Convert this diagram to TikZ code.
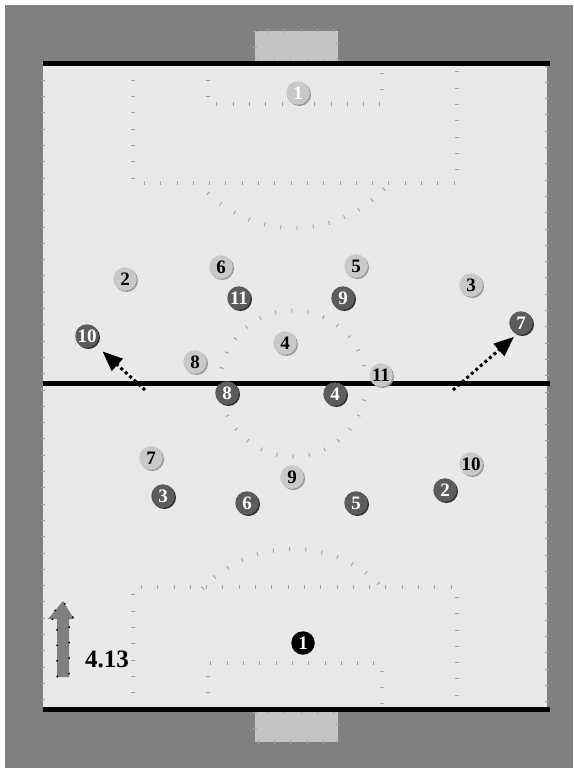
\documentclass[tikz,border=0pt]{standalone}
\usepackage{fontspec}
\setmainfont{Liberation Serif}
\usepackage{tikz}
\usetikzlibrary{arrows.meta,shadows}
\definecolor{Stand}{HTML}{808080}
\definecolor{Pitch}{HTML}{E9E9E9}
\definecolor{Mark}{HTML}{A4A4A4}
\definecolor{GoalGrey}{HTML}{C4C4C4}
\definecolor{HomeBall}{HTML}{C9C9C9}
\definecolor{HomeRim}{HTML}{9A9A9A}
\definecolor{AwayBall}{HTML}{5C5C5C}
\definecolor{AwayRim}{HTML}{333333}
\newcommand{\ballfont}{\bfseries\fontsize{19}{19}\selectfont}

\begin{document}
\begin{tikzpicture}[x=1pt,y=-1pt,
    marks/.style={Mark,line width=4pt,dash pattern=on 1pt off 15.3pt},
    ball/.style={circle,minimum size=23.5pt,inner sep=0pt,font=\ballfont},
    home/.style={ball,fill=HomeBall,drop shadow={shadow xshift=1.3pt,shadow yshift=-1.3pt,fill=HomeRim,opacity=1}},
    away/.style={ball,fill=AwayBall,text=white,drop shadow={shadow xshift=1.3pt,shadow yshift=-1.3pt,fill=AwayRim,opacity=1}},
    keeper/.style={ball,fill=black,text=white},
    run/.style={line width=3pt,dash pattern=on 3pt off 3pt,-{Triangle[length=20pt,width=16pt]}}]
    \useasboundingbox (0,0) rectangle (573,768);
    \fill[white] (0,0) rectangle (573,768);
    \fill[Stand] (5,5) rectangle (573,768);
    \fill[Pitch] (43,63.5) rectangle (547,709.5);
    \draw[marks] (43,63.5) rectangle (547,709.5);
    \draw[marks] (133,63.5) -- (133,183) -- (457,183) -- (457,63.5);
    \draw[marks] (208,63.5) -- (208,104) -- (382,104) -- (382,63.5);
    \draw[marks] (294,104.5) ++(43:123.5) arc (43:137:123.5);
    \draw[marks] (133,709.5) -- (133,587) -- (457,587) -- (457,709.5);
    \draw[marks] (208,709.5) -- (208,663) -- (382,663) -- (382,709.5);
    \draw[marks] (293,673) ++(223:124) arc (223:317:124);
    \draw[marks] (293,383.5) circle (73);
    \filldraw[marks,fill=GoalGrey] (255,31) rectangle (338,61);
    \filldraw[marks,fill=GoalGrey] (255,712) rectangle (338,742);
    \draw[line width=5pt] (43,63.5) -- (550,63.5);
    \draw[line width=5pt] (43,383.5) -- (550,383.5);
    \draw[line width=5pt] (43,709.5) -- (550,709.5);

    \node[home,text=white] (a1) at (298,93) {1};
    \node[home] (a2) at (125,279) {2};
    \node[home] (a3) at (471,285) {3};
    \node[home] (a4) at (285,343) {4};
    \node[home] (a5) at (356,266) {5};
    \node[home] (a6) at (221,267) {6};
    \node[home] (a7) at (151,458) {7};
    \node[home] (a8) at (195,362) {8};
    \node[home] (a9) at (292,477) {9};
    \node[home] (a10) at (471,464) {10};
    \node[home] (a11) at (381,375) {11};

    \node[keeper] (b1) at (303,643) {1};
    \node[away] (b2) at (445,490) {2};
    \node[away] (b3) at (163,496) {3};
    \node[away] (b4) at (335,394) {4};
    \node[away] (b5) at (356,503) {5};
    \node[away] (b6) at (247,503) {6};
    \node[away] (b7) at (521,323) {7};
    \node[away] (b8) at (227,393) {8};
    \node[away] (b9) at (343,298) {9};
    \node[away] (b10) at (87,336) {10};
    \node[away] (b11) at (239,298) {11};

    \coordinate (runL) at (145,390);
    \coordinate (runR) at (453,390);
    \draw[run,shorten >=10pt] (runL) -- (b10.-47);
    \draw[run,shorten >=4pt] (runR) -- (b7.250);

    \filldraw[fill=Stand,draw=black,line width=1.5pt,dash pattern=on 1.5pt off 14pt]
      (57,677) -- (57,619) -- (48,619) -- (63,601) -- (74,619) -- (69,619) -- (69,677) -- cycle;
    \node[font=\bfseries\fontsize{25}{25}\selectfont] (speed) at (107,659) {4.13};
\end{tikzpicture}
\end{document}
